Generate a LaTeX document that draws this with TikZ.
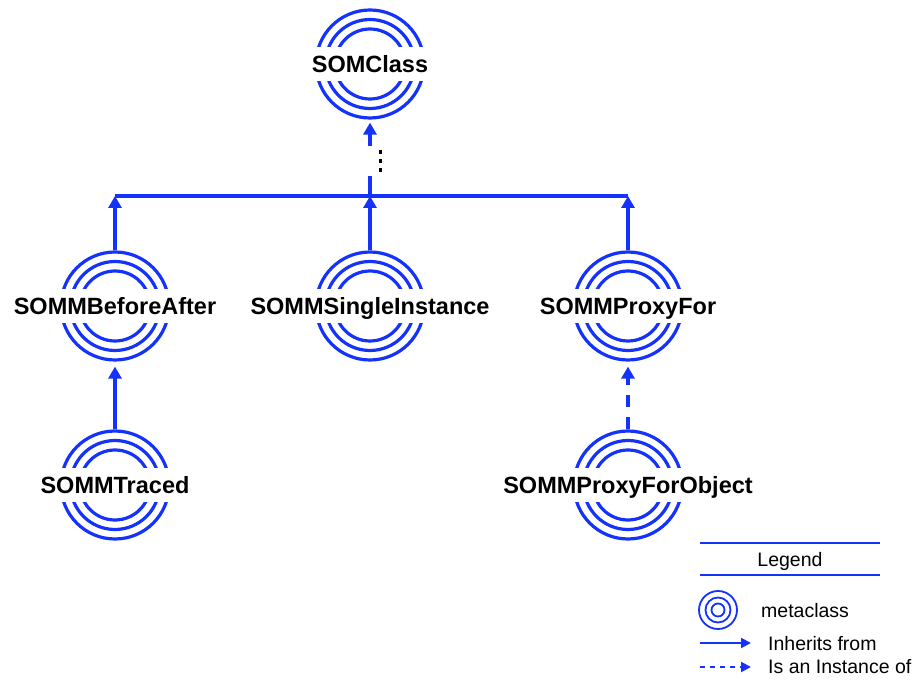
\documentclass[tikz,border=0pt]{standalone}
\usepackage{fontspec}
\setmainfont{Liberation Sans}
\usetikzlibrary{arrows.meta,positioning}
\definecolor{somblue}{RGB}{20,50,250}

\begin{document}
\begin{tikzpicture}[x=1pt,y=-1pt,on grid,
  ring/.style={draw=somblue,line width=3.2pt},
  thinring/.style={draw=somblue,line width=1.8pt},
  meta/.style={circle,ring,minimum size=108pt,inner sep=0pt},
  somlabel/.style={fill=white,inner xsep=2pt,inner ysep=9pt,text height=16.8pt,text depth=0pt,
    font=\fontsize{23.5}{26}\selectfont\bfseries},
  inherit/.style={somblue,line width=3.2pt,-{Triangle[length=12pt,width=13pt]}},
  instance/.style={dash pattern=on 12pt off 10pt},
  legarrow/.style={draw=somblue,line width=2pt,-{Triangle[length=10pt,width=10pt]}},
  legtext/.style={font=\fontsize{19.5}{22}\selectfont,anchor=base west,inner sep=0pt}]

  \useasboundingbox (0,0) rectangle (919,684);

  % the metaclasses
  \node[meta]	(beforeafter)	at (115,306)			{};
  \node[meta]	(singleinstance)	[right=255pt of beforeafter]	{};
  \node[meta]	(proxyfor)	[right=258pt of singleinstance]	{};
  \node[meta]	(somclass)	[above=242pt of singleinstance]	{};
  \node[meta]	(traced)		[below=179pt of beforeafter]	{};
  \node[meta]	(proxyforobject)	[below=179pt of proxyfor]	{};

  \foreach \n in {somclass,beforeafter,singleinstance,proxyfor,traced,proxyforobject}
    \draw[ring] (\n.center) circle[radius=44.5pt] circle[radius=35pt];

  \foreach \n/\t in {somclass/SOMClass,beforeafter/SOMMBeforeAfter,
      singleinstance/SOMMSingleInstance,proxyfor/SOMMProxyFor,
      traced/SOMMTraced,proxyforobject/SOMMProxyForObject}
    \node[somlabel] at (\n) {\t};

  % connectors
  \coordinate (bar)   at (370,196);
  \coordinate (dotlo) at (370,176);
  \coordinate (dothi) at (370,146);

  \draw[ring] (beforeafter |- bar) -- (proxyfor |- bar);
  \draw[ring] (bar) -- (dotlo);
  \foreach \yy in {152,161,170}
    \fill (378.5,\yy-1.8) rectangle ++(3.6,3.6);

  \path[inherit]
     (dothi)		edge [shorten >=3pt]		(somclass)
     (beforeafter)	edge				(beforeafter |- bar)
     (singleinstance)	edge				(singleinstance |- bar)
     (proxyfor)		edge				(proxyfor |- bar)
     (traced)		edge [shorten >=5pt]		(beforeafter)
     (proxyforobject)	edge [instance,shorten >=5pt]	(proxyfor)
  ;

  % legend
  \node[legtext,anchor=base] (legend) at (790,566) {Legend};
  \draw[thinring] (700,543) -- (880,543);
  \draw[thinring] (700,575) -- (880,575);

  \node[circle,thinring,minimum size=38pt,inner sep=0pt] (metaicon) at (718,610) {};
  \draw[thinring] (metaicon.center) circle[radius=12.5pt] circle[radius=6.5pt];
  \node[legtext] (metatext) at (761,617) {metaclass};

  \node[legtext] (inhtext) at (768,650) {Inherits from};
  \node[legtext] (insttext) at (768,673) {Is an Instance of};
  \coordinate (inhfrom)  at (700,643);
  \coordinate (instfrom) at (700,667);
  \draw[legarrow] (inhfrom) -- (inhfrom -| 751,0);
  \draw[legarrow,dash pattern=on 5pt off 5pt] (instfrom) -- (instfrom -| 751,0);
\end{tikzpicture}
\end{document}
